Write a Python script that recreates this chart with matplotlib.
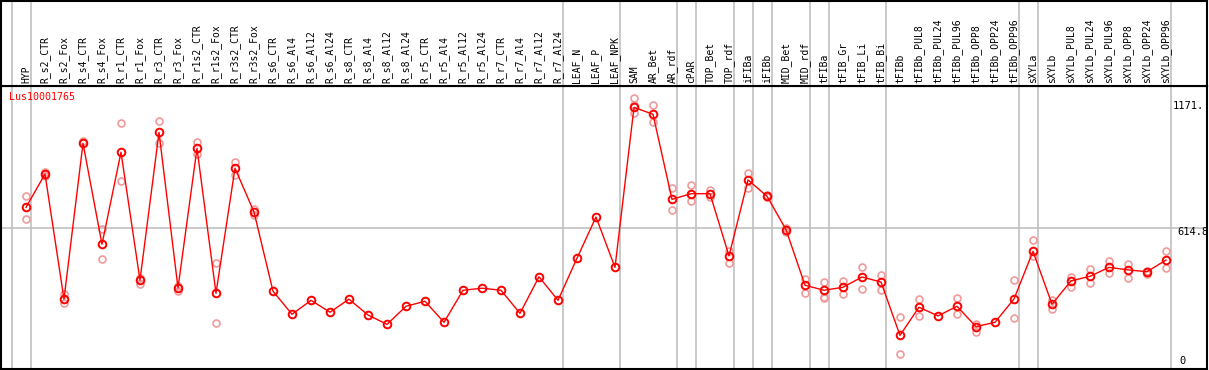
import matplotlib
matplotlib.use("Agg")
import matplotlib.pyplot as plt

# sample names, left to right
samples = ["HYP", "R_s2_CTR", "R_s2_Fox", "R_s4_CTR", "R_s4_Fox", "R_r1_CTR", "R_r1_Fox",
           "R_r3_CTR", "R_r3_Fox", "R_r1s2_CTR", "R_r1s2_Fox", "R_r3s2_CTR", "R_r3s2_Fox",
           "R_s6_CTR", "R_s6_Al4", "R_s6_Al12", "R_s6_Al24", "R_s8_CTR", "R_s8_Al4",
           "R_s8_Al12", "R_s8_Al24", "R_r5_CTR", "R_r5_Al4", "R_r5_Al12", "R_r5_Al24",
           "R_r7_CTR", "R_r7_Al4", "R_r7_Al12", "R_r7_Al24", "LEAF_N", "LEAF_P", "LEAF_NPK",
           "SAM", "AR_Bet", "AR_rdf", "cPAR", "TOP_Bet", "TOP_rdf", "iFIBa", "iFIBb",
           "MID_Bet", "MID_rdf", "tFIBa", "tFIB_Gr", "tFIB_Li", "tFIB_Bi", "tFIBb",
           "tFIBb_PUL8", "tFIBb_PUL24", "tFIBb_PUL96", "tFIBb_OPP8", "tFIBb_OPP24",
           "tFIBb_OPP96", "sXYLa", "sXYLb", "sXYLb_PUL8", "sXYLb_PUL24", "sXYLb_PUL96",
           "sXYLb_OPP8", "sXYLb_OPP24", "sXYLb_OPP96"]

# mean expression per sample
means = [706, 852, 305, 986, 545, 947, 388, 1034, 354, 964, 331, 877, 686,
         340, 239, 300, 248, 305, 236, 195, 274, 296, 204, 344, 353,
         344, 243, 403, 300, 484, 664, 444,
         1143, 1113, 741, 766, 766, 494, 826, 755,
         609, 366, 344, 357, 402, 380, 147,
         270, 232, 274, 185, 204, 306,
         514, 283, 385, 405, 444, 433, 425, 476]

# individual replicates (empty where none shown)
reps = [[756, 654], [860, 843], [328, 287], [996], [610, 479], [1074, 821], [398, 371],
        [1082, 986], [363, 340], [991, 939], [462, 200], [906, 848], [699, 673],
        [], [], [], [], [], [], [], [], [], [], [], [],
        [], [], [], [], [], [], [],
        [1182, 1152, 1120], [1152, 1078], [790, 693], [803, 733], [782, 753], [517, 464],
        [855, 792], [760, 750],
        [617, 600], [393, 333], [379, 316, 309], [386, 326], [444, 351], [411, 344],
        [226, 64],
        [305, 233], [], [309, 239], [197, 163], [], [388, 223],
        [562, 494], [302, 264], [403, 357], [436, 376], [472, 418], [459, 399],
        [429, 415], [516, 440]]

# group boundaries (line drawn just right of these sample indices)
group_ends = [-1, 0, 28, 31, 34, 35, 37, 38, 39, 41, 42, 45, 52, 53, 60]

gene = "Lus10001765"
y_max = 1238.6
y_labels = ["1171.", "614.8", "0"]

W, H = 1209, 370
fig = plt.figure(figsize=(W / 100, H / 100), dpi=100)


def fx(x):
    return x / W


def fy(y):
    return 1 - y / H


# x in pixels: 26 + 19 * index
x0 = (1 - 26) / 19
x1 = (1207 - 26) / 19
xs = list(range(len(samples)))

grid_c = "#c0c0c0"

# plot area
ax = fig.add_axes([fx(1), fy(369), fx(1207) - fx(1), fy(85.5) - fy(369)])
ax.set_xlim(x0, x1)
ax.set_ylim(0, y_max)
for g in group_ends:
    ax.axvline(g + 0.25, color=grid_c, lw=1.2, zorder=0)
ax.axhline(614.8, color=grid_c, lw=1.2, zorder=0)

rx, ry = [], []
for i, r in enumerate(reps):
    for v in r:
        rx.append(i)
        ry.append(v)
ax.plot(rx, ry, "o", ms=5, mfc="none", mec="#f09a9a", mew=1.2, zorder=2)
ax.plot(xs, means, "-", color="red", lw=1, zorder=3)
ax.plot(xs, means, "o", ms=5.5, mfc="none", mec="red", mew=1.4, zorder=4)
ax.set_xticks([])
ax.set_yticks([])
for s in ax.spines.values():
    s.set_linewidth(1.5)

# header with sample names
hx = fig.add_axes([fx(1), fy(85.5), fx(1207) - fx(1), fy(0.7) - fy(85.5)])
hx.set_xlim(x0, x1)
hx.set_ylim(0, 85)
for g in group_ends:
    hx.axvline(g + 0.25, color=grid_c, lw=1.2, zorder=0)
for i, name in enumerate(samples):
    hx.text(i, 3, name, rotation=90, ha="center", va="bottom",
            fontsize=7, family="DejaVu Sans Mono")
hx.set_xticks([])
hx.set_yticks([])
for s in hx.spines.values():
    s.set_linewidth(1.5)

fig.text(fx(9), fy(97), gene, color="red", fontsize=7.2, family="DejaVu Sans Mono",
         va="center", ha="left")
fig.text(fx(1173), fy(106), y_labels[0], fontsize=7.5, family="DejaVu Sans Mono", va="center")
fig.text(fx(1177), fy(232), y_labels[1], fontsize=7.5, family="DejaVu Sans Mono", va="center")
fig.text(fx(1179), fy(361), y_labels[2], fontsize=7.5, family="DejaVu Sans Mono", va="center")

fig.savefig("out.png", dpi=100)
